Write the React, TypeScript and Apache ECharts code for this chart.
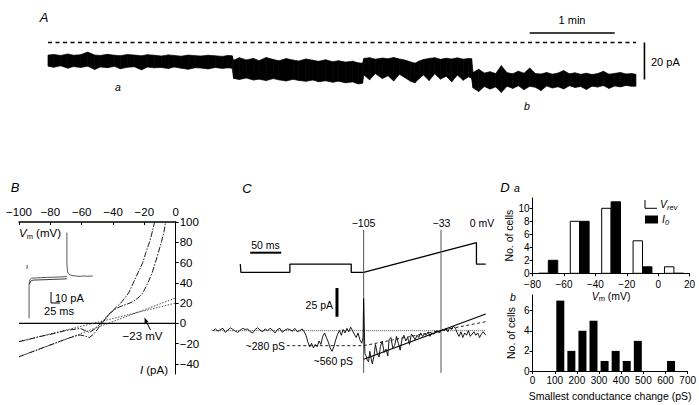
import React, { useEffect, useRef } from 'react';
import * as echarts from 'echarts';

const FONT = '"Liberation Sans", Arial, Helvetica, sans-serif';

// ---------------- Panel A : current record (s, pA magnitude, downward) ----------------
const aTime = [
  0, 4, 9, 14, 18, 23, 28, 33, 37, 42, 47, 51, 56, 61, 66, 70, 75, 80, 85, 89, 94, 99, 104, 108, 113, 118, 123, 127, 130,
  131, 135, 140, 145, 149, 154, 159, 163, 168, 173, 177, 182, 187, 191, 196, 201, 205, 210, 215, 219, 222,
  223, 227, 231, 236, 240, 244, 248, 252, 256, 259, 262, 265, 269, 273, 277, 281, 285, 289, 293, 297, 299,
  300, 304, 308, 312, 316, 320, 324, 328, 332, 336, 340, 344, 348, 352, 356, 360, 364, 368, 372, 376, 380, 384, 388, 392, 396, 400, 404, 408, 412, 415,
];
const aUpper = [
  6.8, 6.5, 7, 6.2, 6.9, 6.6, 5.2, 6.8, 7, 6.4, 6.9, 7.1, 6.5, 6.8, 7.2, 6.6, 6.9, 7.3, 6.7, 7, 7.4, 6.8, 7.1, 7.3, 6.9, 7.2, 7.5, 7, 7.2,
  9.6, 8.2, 9.4, 8.6, 9.8, 8.1, 9.2, 9.9, 8.7, 9.5, 10, 8.9, 9.6, 10.2, 9.3, 10.4, 9.8, 10.6, 10.1, 11, 11.2,
  8.6, 8.2, 9, 8.4, 8.8, 8.1, 8.9, 9.5, 10.5, 11.2, 10, 9.2, 8.6, 8.2, 9.1, 8.5, 8.9, 8.3, 9, 8.6, 8.8,
  16.2, 14.5, 16.5, 15.8, 16.8, 12.5, 16.3, 16.9, 15.5, 16.6, 13.8, 16.8, 17, 16.2, 17.1, 16.5, 15.2, 16.9, 16.4, 17.2, 16.6, 17.3, 16.8, 15.6, 17.1, 16.7, 16.2, 17, 16.8, 17.2,
];
const aLower = [
  12.8, 13.4, 12.6, 13.9, 13, 13.5, 12.8, 14.6, 13.2, 13.6, 12.9, 14.2, 13.4, 13.1, 14.8, 13.3, 13.7, 13.5, 14.1, 13.2, 13.9, 14.5, 13.6, 13.8, 14.3, 13.5, 14, 13.7, 13.9,
  19.4, 20, 19.2, 20.3, 19.8, 20.6, 19.5, 20.2, 20.8, 19.9, 20.5, 21, 20.3, 21.2, 20.7, 21.5, 20.9, 21.8, 21.3, 22.4, 22,
  17.5, 20.2, 16.8, 19.5, 18, 20.8, 17.2, 19, 21, 21.8, 19.5, 17.5, 20.6, 16.9, 19.8, 18.2, 21.2, 17.6, 20.4, 18.5, 19.5,
  24.5, 26.5, 23.8, 25.2, 24, 27, 23.6, 24.8, 23.4, 25.5, 23.7, 24.2, 26, 23.5, 24.6, 23.9, 25.1, 23.4, 24.3, 23.8, 25.4, 23.6, 24.1, 23.3, 24.8, 23.5, 24, 23.2, 23.7, 23.6,
];
const aZeroLine = [[0, 0], [415, 0]];
const aMinuteBar = [[340, -5.1], [400, -5.1]];
const aPaBar = [[421, 0], [421, 20]];

// ---------------- Panel B : I-V relations (mV, pA) ----------------
const bZero = [[-100, 0], [0, 0]];
const bFit1 = [[-100, -18], [0, 20]];
const bFit2 = [[-100, -33], [0, 25]];
const bTraceLV = [-100, -94, -88, -82, -76, -70, -65, -61, -58, -55, -52, -50, -48, -46, -44, -41, -37.7, -35, -33, -30, -27, -24, -21, -19, -16.5, -15, -13.5];
const bTraceLI = [-18, -16, -13.5, -11.5, -9.5, -7, -6, -5, -7, -9, -6, -3, 0, 3, 6.6, 11, 16.5, 20, 24, 30, 40, 50, 60, 70, 81, 90, 100];
const bTraceRV = [-100, -94, -88, -82, -76, -70, -65, -61, -58, -55, -52, -49, -46, -42, -38.5, -35.5, -31, -27, -23, -21, -17.7, -15, -13, -11, -9, -7.5, -6.5];
const bTraceRI = [-33, -29.5, -26, -22.5, -19, -15.5, -13, -11.5, -12.5, -14, -10, -4, 2, 10, 14, 16.5, 19, 21.5, 26.5, 30, 40, 50, 60, 70, 81, 90, 100];
const bYTicks = [-40, -20, 0, 20, 40, 60, 80, 100];
// inset current traces (ms, pA)
const insT1 = [133, 133, 134, 135.5, 138, 142, 150, 160, 170, 180, 190, 200, 205];
const insI1 = [84, 56, 51, 48, 46.5, 45.5, 44.8, 44.5, 44.2, 44.6, 44.3, 44.5, 44.4];
const insT2 = [28, 28, 29, 31, 35, 45, 60, 80, 100, 120, 133];
const insI2 = [6, 36, 39.5, 41.5, 42.5, 42.8, 43, 43.3, 43.5, 43.8, 44];
const insT3 = [29.5, 31, 34, 40, 55, 75, 95, 115, 133];
const insI3 = [37, 39, 40.3, 40.8, 41, 41.2, 41.5, 41.7, 42];
const insMark = [[22, 51], [23, 54.5]];
const insScale = [[89, 30], [89, 20], [114, 20]];

// ---------------- Panel C : ramp protocol (ms, mV) and current (ms, pA) ----------------
const cProtoT = [0, 1, 80, 80, 179, 179, 199, 381, 381, 396];
const cProtoV = [-76, -105, -105, -76, -76, -105, -105, 0, -76, -76];
const cRampStart = 199;
const cRampEnd = 381;
const cRampV0 = -105;
const cMarkV = [-105, -33];
const cCurT = [
  -44, -40, -36, -32, -28, -24, -20, -16, -12, -8, -4, 0, 4, 8, 12, 16, 20, 24, 28, 32, 36, 40, 44, 48, 52, 56, 60, 64, 68, 72, 76, 80, 84, 88, 92, 96, 100,
  103, 106, 109, 112, 115, 118, 121, 124, 127, 130, 133, 136, 139, 142, 145, 148, 151, 154, 157, 160, 163, 166, 169, 172, 175, 178, 181, 184, 187, 190, 193, 196, 198,
  199, 200, 201,
  203, 205, 207, 209, 211, 213, 216, 218, 221, 224, 226, 229, 232, 235, 238, 240, 243, 246, 249, 252, 255, 258, 261, 264, 267, 270, 273, 276, 279, 282, 285, 288, 291, 294, 297, 300, 303, 306, 309, 312, 315, 318, 321, 324, 326,
  329, 332, 335, 338, 341, 344, 347, 350, 353, 356, 359, 362, 365, 368, 371, 374, 377, 380, 383, 386, 389, 392, 396,
];
const cCurI = [
  0, 1.5, -0.5, 1, 2, -1.5, 0.5, 2.5, 1, -0.5, -1.5, 0.5, 2, 1, 1.5, -1, -2, 1, 2.5, 0.5, -1, 1.5, 0, 2, 0.5, -2, 1, 2, -1.5, 0.5, 1.5, 1, -0.5, 2, -1, 0, 1.5,
  -1, -4, -10, -14, -11, -15, -12, -14, -9, -12, -5, -2, -6, -10, -15, -18, -14, -8, -3, 0, -4, 1, -2, 2, -1, 3, 0, -3, -6, -2, -8, -11, -6,
  28, 5, -20,
  -22, -26, -27, -18, -24, -29, -21, -12, -20, -23, -14, -9, -19, -16, -22, -8, -6, -15, -13, -5, -11, -17, -7, -4, -9, -6, -12, -3, -5, -8, -4, -6, -2, -5, -3, -4, -1, -5, -2, -3, -1, 0, -2, 0, 1,
  0, 2, -1, 3, 1, 4, 2, -2, -5, -1, -6, -2, -4, 0, -5, -3, -1, -4, -2, -6, -3, -1, -4,
];
const cBaseline = [[-46, 0], [396, 0]];
const c280 = [[75, -13.1], [199, -13.1], [396, 7.8]];
const c560 = [[199, -24.9], [396, 14.5]];
const cMarkTop = 87.7;
const cMarkBottom = -36.8;
const cMsBar = [[16, -35.5], [66, -35.5]];
const cPaBar = [[156, 37.2], [156, 12.2]];

// ---------------- Panel D ----------------
const daBins = [-70, -50, -30, -10, 10];
const daVrev = [0, 8, 10, 5, 1];
const daI0 = [2, 8, 11, 1, 0];
const daYTicks = [0, 2, 4, 6, 8, 10];
const dbBins = [125, 175, 225, 275, 325, 375, 425, 475, 625];
const dbCounts = [7, 2, 4, 5, 1, 2, 1, 3, 1];
const dbYTicks = [0, 2, 4, 6];

const zip = (xs: number[], ys: number[]) => xs.map((x, i) => [x, ys[i]]);
const minus = (v: number) => (v < 0 ? '\u2212' + Math.abs(v) : String(v));

const line = (xi: number, yi: number, data: any[], style: any, extra: any = {}) => ({
  type: 'line',
  xAxisIndex: xi,
  yAxisIndex: yi,
  data,
  symbol: 'none',
  silent: true,
  lineStyle: { color: '#000', width: 1, ...style },
  ...extra,
});

const txt = (x: number, y: number, text: string, opts: any = {}) => ({
  type: 'text',
  x,
  y,
  silent: true,
  style: {
    text,
    fill: '#000',
    font: `${opts.italic ? 'italic ' : ''}${opts.size || 10.5}px ${FONT}`,
    align: opts.align || 'center',
    verticalAlign: 'middle',
  },
});

const hidden = (gi: number, min: number, max: number, extra: any = {}) => ({
  type: 'value',
  gridIndex: gi,
  min,
  max,
  show: false,
  ...extra,
});

const DA_W = 6;
const daRender = (fill: string, left: boolean) => (_p: any, api: any) => {
  const c = api.value(0);
  const v = api.value(1);
  const a = api.coord([left ? c - DA_W : c, v]);
  const b = api.coord([left ? c : c + DA_W, 0]);
  return {
    type: 'rect',
    shape: { x: a[0], y: a[1], width: b[0] - a[0], height: b[1] - a[1] },
    style: { fill, stroke: '#000', lineWidth: 1 },
  };
};

const bandRender = (params: any, api: any) => {
  const i = params.dataIndex;
  if (i >= aTime.length - 1) return null;
  const pts = [
    api.coord([aTime[i], aUpper[i]]),
    api.coord([aTime[i + 1], aUpper[i + 1]]),
    api.coord([aTime[i + 1], aLower[i + 1]]),
    api.coord([aTime[i], aLower[i]]),
  ];
  return { type: 'polygon', shape: { points: pts }, style: { fill: '#000', stroke: '#000', lineWidth: 0.7 } };
};

const axisCommon = (fontSize: number) => ({
  axisLine: { show: true, onZero: false, lineStyle: { color: '#000', width: 1 } },
  axisTick: { show: true, length: 3, lineStyle: { color: '#000', width: 1 } },
  axisLabel: { color: '#000', fontSize, fontFamily: FONT, formatter: minus },
  splitLine: { show: false },
});

const rampT = (v: number) => cRampStart + ((v - cRampV0) / (0 - cRampV0)) * (cRampEnd - cRampStart);

export default function App() {
  const ref = useRef<HTMLDivElement>(null);
  useEffect(() => {
    if (!ref.current) return;
    const chart = echarts.init(ref.current, undefined, { renderer: 'svg' });
    const richV = {
      i: { fontStyle: 'italic', fontSize: 11.5, fontFamily: FONT },
      s: { fontSize: 7.5, fontFamily: FONT, padding: [6, 0, 0, 0] },
      n: { fontSize: 11.5, fontFamily: FONT },
    };
    const richD = {
      i: { fontStyle: 'italic', fontSize: 10.5, fontFamily: FONT },
      s: { fontStyle: 'italic', fontSize: 7.5, fontFamily: FONT, padding: [6, 0, 0, 0] },
      n: { fontSize: 10.5, fontFamily: FONT },
    };

    const option: any = {
      animation: false,
      backgroundColor: '#fff',
      grid: [
        { left: 48, top: 27.7, width: 609.2, height: 74 },
        { left: 19, top: 222, width: 156.7, height: 152 },
        { left: 19, top: 225, width: 100, height: 100 },
        { left: 200, top: 220, width: 300, height: 160 },
        { left: 532.6, top: 197.9, width: 157, height: 75.4 },
        { left: 532.6, top: 295, width: 157.5, height: 76 },
      ],
      xAxis: [
        hidden(0, 0, 430),
        {
          type: 'value', gridIndex: 1, min: -100, max: 0, interval: 20, position: 'top',
          ...axisCommon(11.5),
          axisLine: { show: true, onZero: false, lineStyle: { color: '#000', width: 1.5 } },
          axisTick: { show: true, inside: true, length: 3, lineStyle: { color: '#000' } },
          axisLabel: { color: '#000', fontSize: 11.5, fontFamily: FONT, formatter: minus, margin: 4 },
        },
        hidden(2, 0, 277.8),
        hidden(3, -65, 419),
        {
          type: 'value', gridIndex: 4, min: -80, max: 20, interval: 20,
          ...axisCommon(10),
          axisLabel: { color: '#000', fontSize: 10, fontFamily: FONT, formatter: minus, margin: 6 },
          name: '{i|V}{s|m}{n| (mV)}', nameLocation: 'middle', nameGap: 12,
          nameTextStyle: { rich: { ...richD, s: { fontSize: 7.5, fontFamily: FONT, padding: [6, 0, 0, 0] } } },
        },
        {
          type: 'value', gridIndex: 5, min: 0, max: 700, interval: 100,
          ...axisCommon(10),
          axisLabel: { color: '#000', fontSize: 10, fontFamily: FONT, margin: 4 },
          name: 'Smallest conductance change (pS)', nameLocation: 'middle', nameGap: 19,
          nameTextStyle: { color: '#000', fontSize: 10.5, fontFamily: FONT },
        },
      ],
      yAxis: [
        hidden(0, -8, 32, { inverse: true }),
        {
          type: 'value', gridIndex: 1, min: -50, max: 100, position: 'right',
          ...axisCommon(11.5),
          axisTick: { show: true, length: 3, customValues: bYTicks, lineStyle: { color: '#000' } },
          axisLabel: { color: '#000', fontSize: 11.5, fontFamily: FONT, formatter: minus, margin: 4, customValues: bYTicks },
        },
        hidden(2, 0, 90.9),
        hidden(3, -487.1, 80.5),
        hidden(3, -43, 96.4),
        {
          type: 'value', gridIndex: 4, min: 0, max: 11.6,
          ...axisCommon(10),
          axisTick: { show: true, length: 3, customValues: daYTicks, lineStyle: { color: '#000' } },
          axisLabel: { color: '#000', fontSize: 10, fontFamily: FONT, margin: 3, customValues: daYTicks },
          name: 'No. of cells', nameLocation: 'middle', nameGap: 16, nameRotate: 90,
          nameTextStyle: { color: '#000', fontSize: 10.5, fontFamily: FONT },
        },
        {
          type: 'value', gridIndex: 5, min: 0, max: 7.56,
          ...axisCommon(10),
          axisTick: { show: true, length: 3, customValues: dbYTicks, lineStyle: { color: '#000' } },
          axisLabel: { color: '#000', fontSize: 10, fontFamily: FONT, margin: 3, customValues: dbYTicks },
          name: 'No. of cells', nameLocation: 'middle', nameGap: 16, nameRotate: 90,
          nameTextStyle: { color: '#000', fontSize: 10.5, fontFamily: FONT },
        },
      ],
      series: [
        // ---- A ----
        line(0, 0, aZeroLine, { width: 1.3, type: [4, 3.5] }),
        {
          type: 'custom', xAxisIndex: 0, yAxisIndex: 0, silent: true,
          data: aTime.map((t, i) => [t, aUpper[i], aLower[i]]),
          encode: { x: 0, y: [1, 2] },
          renderItem: bandRender,
        },
        line(0, 0, aMinuteBar, { width: 1.6 }),
        line(0, 0, aPaBar, { width: 1.6 }),
        // ---- B ----
        line(1, 1, bZero, { width: 1.3 }),
        line(1, 1, bFit1, { width: 0.9, color: '#333', type: [1.5, 1.5] }),
        line(1, 1, bFit2, { width: 0.9, color: '#333', type: [1.5, 1.5] }),
        line(1, 1, zip(bTraceLV, bTraceLI), { width: 0.9, type: [6, 1.5, 1.5, 1.5] }),
        line(1, 1, zip(bTraceRV, bTraceRI), { width: 0.9, type: [6, 1.5, 1.5, 1.5] }),
        // inset
        line(2, 2, zip(insT1, insI1), { width: 0.9, color: '#444' }),
        line(2, 2, zip(insT2, insI2), { width: 0.9, color: '#444' }),
        line(2, 2, zip(insT3, insI3), { width: 0.9, color: '#222' }),
        line(2, 2, insMark, { width: 0.9, color: '#444' }),
        line(2, 2, insScale, { width: 1 }),
        // ---- C ----
        line(3, 3, zip(cProtoT, cProtoV), { width: 1.3 }),
        line(3, 3, cMsBar, { width: 2 }),
        ...cMarkV.map((v) => line(3, 4, [[rampT(v), cMarkTop], [rampT(v), cMarkBottom]], { width: 1, color: '#555' })),
        line(3, 4, cBaseline, { width: 1, color: '#444', type: 'dotted' }),
        line(3, 4, c280, { width: 1, color: '#222', type: [3, 2.5] }),
        line(3, 4, zip(cCurT, cCurI), { width: 0.9 }),
        line(3, 4, c560, { width: 1.2 }),
        line(3, 4, cPaBar, { width: 3 }),
        // ---- D a ----
        {
          type: 'custom', xAxisIndex: 4, yAxisIndex: 5, silent: true,
          data: zip(daBins, daVrev), encode: { x: 0, y: 1 },
          renderItem: daRender('#fff', true),
        },
        {
          type: 'custom', xAxisIndex: 4, yAxisIndex: 5, silent: true,
          data: zip(daBins, daI0), encode: { x: 0, y: 1 },
          renderItem: daRender('#000', false),
        },
        // ---- D b ----
        {
          type: 'bar', xAxisIndex: 5, yAxisIndex: 6, silent: true,
          data: zip(dbBins, dbCounts), barWidth: 8,
          itemStyle: { color: '#000' },
        },
      ],
      graphic: [
        // A
        txt(44, 17, 'A', { italic: true, size: 13 }),
        txt(572, 20, '1 min', { size: 11 }),
        txt(651, 62, '20 pA', { size: 11, align: 'left' }),
        txt(118, 87, 'a', { italic: true, size: 10.5 }),
        txt(527, 106, 'b', { italic: true, size: 10.5 }),
        // B
        txt(15, 187, 'B', { italic: true, size: 13 }),
        {
          type: 'text', x: 19, y: 233, silent: true,
          style: { text: '{i|V}{s|m}{n| (mV)}', rich: richV, align: 'left', verticalAlign: 'middle', fill: '#000' },
        },
        {
          type: 'text', x: 168, y: 370, silent: true,
          style: { text: '{i|I}{n| (pA)}', rich: richV, align: 'right', verticalAlign: 'middle', fill: '#000' },
        },
        txt(142.5, 336, '\u221223 mV', { size: 11.5 }),
        { type: 'line', silent: true, shape: { x1: 150.5, y1: 330, x2: 145.5, y2: 320 }, style: { stroke: '#000', lineWidth: 1 } },
        { type: 'polygon', silent: true, shape: { points: [[144.5, 317.5], [148.3, 321.8], [144.6, 323.4]] }, style: { fill: '#000' } },
        txt(55, 298, '10 pA', { size: 11, align: 'left' }),
        txt(59, 311, '25 ms', { size: 11 }),
        // C
        txt(247, 188, 'C', { italic: true, size: 13 }),
        txt(363.5, 223, '\u2212105', { size: 10.5 }),
        txt(441.5, 223, '\u221233', { size: 10.5 }),
        txt(482, 223, '0 mV', { size: 10.5 }),
        txt(265.5, 245, '50 ms', { size: 10.5 }),
        txt(333, 305, '25 pA', { size: 10.5, align: 'right' }),
        txt(285, 345.5, '~280 pS', { size: 10.5, align: 'right' }),
        txt(353, 361, '~560 pS', { size: 10.5, align: 'right' }),
        // D
        txt(505, 187, 'D', { italic: true, size: 13 }),
        txt(517, 188, 'a', { italic: true, size: 10.5 }),
        txt(513, 297, 'b', { italic: true, size: 10.5 }),
        { type: 'polyline', silent: true, shape: { points: [[645, 200], [645, 208.3], [657, 208.3]] }, style: { stroke: '#000', lineWidth: 1, fill: 'none' } },
        {
          type: 'text', x: 660, y: 204, silent: true,
          style: { text: '{i|V}{s|rev}', rich: richD, align: 'left', verticalAlign: 'middle', fill: '#000' },
        },
        { type: 'rect', silent: true, shape: { x: 645, y: 215.5, width: 13, height: 8 }, style: { fill: '#000' } },
        {
          type: 'text', x: 662, y: 219, silent: true,
          style: { text: '{i|I}{s|0}', rich: richD, align: 'left', verticalAlign: 'middle', fill: '#000' },
        },
      ],
    };
    chart.setOption(option);
    return () => chart.dispose();
  }, []);
  return (
    <div
      ref={ref}
      style={{ position: 'fixed', left: 0, top: 0, width: 699, height: 405, background: '#fff' }}
    />
  );
}
